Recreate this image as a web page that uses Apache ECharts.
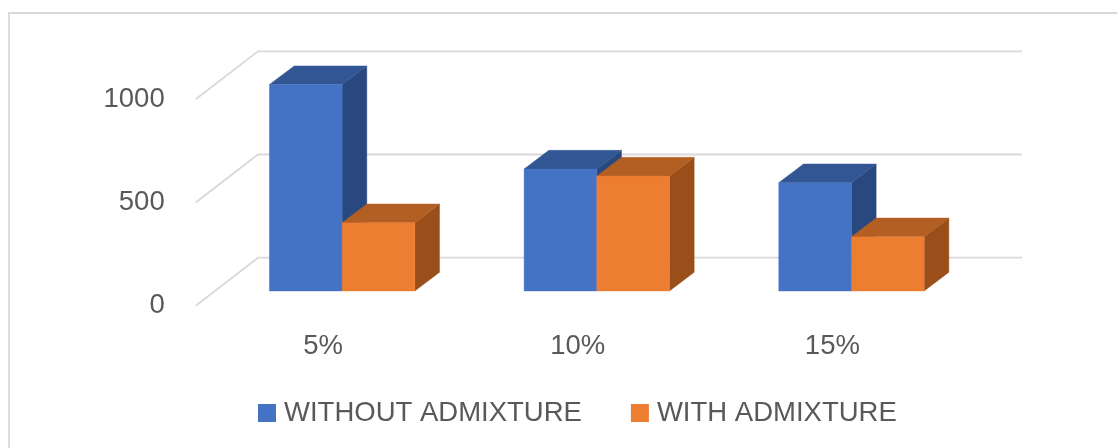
<!DOCTYPE html>
<html>
<head>
<meta charset="utf-8">
<style>html,body{margin:0;padding:0;background:#fff}#c{width:1117px;height:448px}</style>
<script src="https://cdn.jsdelivr.net/npm/echarts@6/dist/echarts.min.js"></script>
</head>
<body>
<div id="c"></div>
<script>
const categories = ['5%', '10%', '15%'];
const withoutAdmixture = [1000, 591, 525];
const withAdmixture = [331, 557, 263];
const yTicks = [0, 500, 1000];

const FONT = '"Liberation Sans", Arial, sans-serif';
const TEXT = '#595959';
const WALL = [62.3, -48];   // depth of the floor
const PLANE = [19.1, -14.7]; // bars stand this far behind the front edge
const DEPTH = [24.7, -18.7]; // depth of each bar
const BAR_FRAC = 0.2855;     // bar width as a share of the category band

function barRender(sign, front, top, side) {
  return function (params, api) {
    const cat = api.value(0), val = api.value(1);
    const base = api.coord([cat, 0]);
    const head = api.coord([cat, val]);
    const w = api.size([1, 0])[0] * BAR_FRAC;
    const xa = base[0] + PLANE[0] + (sign < 0 ? -w : 0);
    const xb = xa + w;
    const yb = base[1] + PLANE[1];
    const yt = head[1] + PLANE[1];
    const dx = DEPTH[0], dy = DEPTH[1];
    const poly = (pts, fill) => ({
      type: 'polygon',
      shape: { points: pts },
      style: { fill: fill, stroke: fill, lineWidth: 0.4 }
    });
    return {
      type: 'group',
      children: [
        poly([[xb, yt], [xb + dx, yt + dy], [xb + dx, yb + dy], [xb, yb]], side),
        poly([[xa, yt], [xa + dx, yt + dy], [xb + dx, yt + dy], [xb, yt]], top),
        poly([[xa, yt], [xb, yt], [xb, yb], [xa, yb]], front)
      ]
    };
  };
}

function wallRender(params, api) {
  const p = api.coord([0, api.value(0)]);
  const x0 = params.coordSys.x, x1 = x0 + params.coordSys.width;
  return {
    type: 'polyline',
    shape: { points: [[x0, p[1]], [x0 + WALL[0], p[1] + WALL[1]], [x1 + WALL[0], p[1] + WALL[1]]] },
    style: { fill: 'none', stroke: '#D9D9D9', lineWidth: 1.8 }
  };
}

const chart = echarts.init(document.getElementById('c'), null, { renderer: 'canvas' });
chart.setOption({
  animation: false,
  backgroundColor: '#ffffff',
  graphic: [{
    type: 'rect',
    shape: { x: 9, y: 13, width: 1300, height: 600 },
    style: { fill: 'none', stroke: '#D9D9D9', lineWidth: 1.8 },
    silent: true, z: -10
  }],
  grid: { left: 195.7, top: 99.3, width: 764, height: 206.4, containLabel: false },
  legend: {
    data: ['WITHOUT ADMIXTURE', 'WITH ADMIXTURE'],
    left: 253, top: 394,
    icon: 'rect', itemWidth: 18, itemHeight: 18, itemGap: 49,
    textStyle: { fontFamily: FONT, fontSize: 27.5, color: TEXT, padding: [0, 0, 0, 3] }
  },
  xAxis: {
    type: 'category', data: categories,
    axisLine: { show: false }, axisTick: { show: false }, splitLine: { show: false },
    axisLabel: { fontFamily: FONT, fontSize: 27.5, color: TEXT, margin: 27 }
  },
  yAxis: {
    type: 'value', min: 0, max: 1000, interval: 500,
    axisLine: { show: false }, axisTick: { show: false }, splitLine: { show: false },
    axisLabel: { fontFamily: FONT, fontSize: 27.5, color: TEXT, margin: 31, formatter: v => String(v) }
  },
  series: [
    { type: 'custom', name: 'walls', silent: true, clip: false, z: 1,
      renderItem: wallRender, encode: { y: 0 }, data: yTicks.map(v => [v]) },
    { type: 'custom', name: 'WITHOUT ADMIXTURE', clip: false, z: 2,
      itemStyle: { color: '#4472C4' },
      renderItem: barRender(-1, '#4472C4', '#325594', '#2A4880'),
      encode: { x: 0, y: 1 },
      data: withoutAdmixture.map((v, i) => [i, v]) },
    { type: 'custom', name: 'WITH ADMIXTURE', clip: false, z: 3,
      itemStyle: { color: '#ED7D31' },
      renderItem: barRender(1, '#ED7D31', '#B35E22', '#9A4F1A'),
      encode: { x: 0, y: 1 },
      data: withAdmixture.map((v, i) => [i, v]) }
  ]
});
</script>
</body>
</html>
